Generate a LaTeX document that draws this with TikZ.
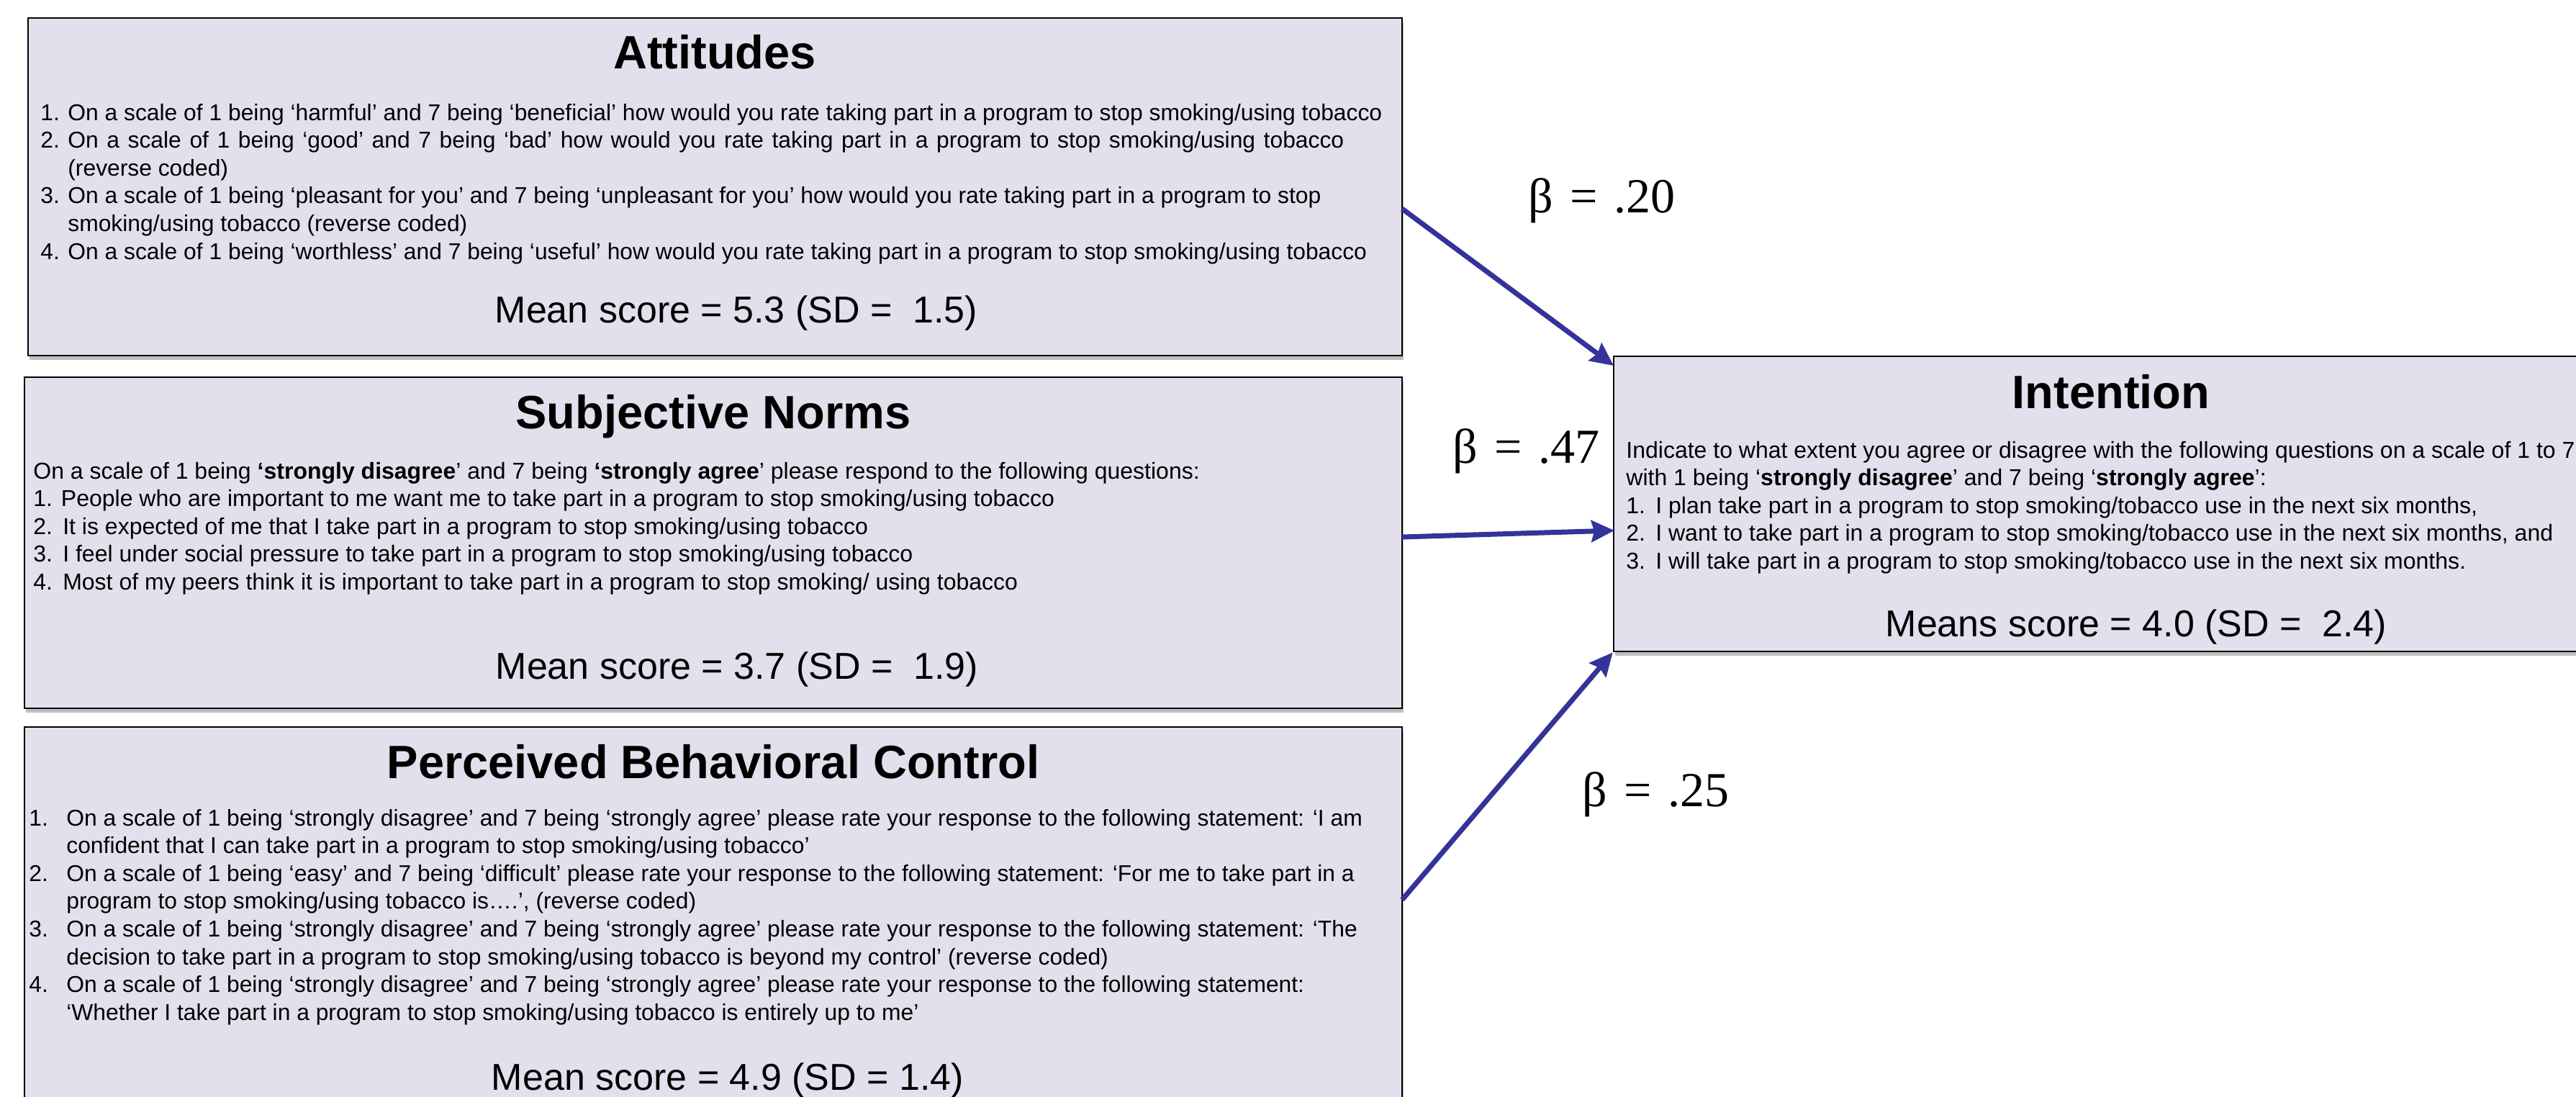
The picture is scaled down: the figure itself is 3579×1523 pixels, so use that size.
\documentclass[tikz,border=0pt]{standalone}
\usepackage{fontspec}
\setmainfont{Liberation Sans}
\newfontfamily\betafont{Liberation Serif}
\usetikzlibrary{arrows.meta,shadows}
\definecolor{panelfill}{RGB}{228,223,236}
\definecolor{arrowblue}{RGB}{51,51,153}
\newcommand{\bodyfont}{\fontsize{16pt}{19.3pt}\selectfont}
\newcommand{\bodyfontb}{\fontsize{15.9pt}{19.3pt}\selectfont}
\newcommand{\titlefont}{\fontsize{32.5pt}{39pt}\selectfont\bfseries}
\newcommand{\meanfont}{\fontsize{26pt}{31pt}\selectfont}
\newcommand{\betasize}{\betafont\fontsize{34pt}{40pt}\selectfont}
\newcommand{\itemline}[2]{\hbox{\makebox[19pt][l]{#1}#2}}
\newcommand{\contline}[1]{\hbox{\hspace*{19pt}#1}}
\newcommand{\itemlinew}[2]{\hbox{\makebox[26pt][l]{#1}#2}}
\newcommand{\contlinew}[1]{\hbox{\hspace*{26pt}#1}}
\newcommand{\plainline}[1]{\hbox{#1}}
\newcommand{\betalabel}[1]{β\hspace{12pt}=\hspace{11pt}#1}
\tikzset{
  panel/.style={draw=black, line width=1.4pt, fill=panelfill,
    drop shadow={shadow xshift=1pt, shadow yshift=-3pt, opacity=0.25, fill=black},
    inner sep=0pt},
  txt/.style={inner sep=0pt, anchor=base west},
  ctr/.style={inner sep=0pt, anchor=base},
  conn/.style={draw=arrowblue, line width=3.5pt,
    -{Stealth[length=16pt,width=15pt,inset=2pt]}}
}
\begin{document}
\begin{tikzpicture}[x=0.5pt,y=-0.5pt]
\useasboundingbox (0,0) rectangle (3579,1523);
\clip (0,0) rectangle (3579,1523);
\fill[white] (0,0) rectangle (3579,1523);

% panels
\node[panel, minimum width=954.5pt, minimum height=234.5pt] (att) at (993.5,259.5) {};
\node[panel, minimum width=957pt, minimum height=230pt] (sn) at (991,754) {};
\node[panel, minimum width=957pt, minimum height=285pt] (pbc) at (991,1295) {};
\node[panel, minimum width=691pt, minimum height=205pt] (int) at (2933,700) {};

% Attitudes
\node[ctr] (atttitle) at (993,95) {\titlefont Attitudes};
\node[txt] (attbody) at (56,167) {\bodyfontb\vtop{%
\itemline{1.}{On a scale of 1 being ‘harmful’ and 7 being ‘beneficial’ how would you rate taking part in a program to stop smoking/using tobacco}
\itemline{2.}{\spaceskip=5.8pt On a scale of 1 being ‘good’ and 7 being ‘bad’ how would you rate taking part in a program to stop smoking/using tobacco}
\contline{(reverse coded)}
\itemline{3.}{On a scale of 1 being ‘pleasant for you’ and 7 being ‘unpleasant for you’ how would you rate taking part in a program to stop}
\contline{smoking/using tobacco (reverse coded)}
\itemline{4.}{On a scale of 1 being ‘worthless’ and 7 being ‘useful’ how would you rate taking part in a program to stop smoking/using tobacco}}};
\node[ctr] (attmean) at (1023,448) {\meanfont Mean score = 5.3 (SD = \ 1.5)};

% Subjective norms
\node[ctr] (sntitle) at (991,595) {\titlefont Subjective Norms};
\node[txt] (snbody) at (46,665) {\bodyfont\vtop{%
\plainline{On a scale of 1 being \textbf{‘strongly disagree}’ and 7 being \textbf{‘strongly agree}’ please respond to the following questions:}
\plainline{1. People who are important to me want me to take part in a program to stop smoking/using tobacco}
\plainline{2.\ \,It is expected of me that I take part in a program to stop smoking/using tobacco}
\plainline{3.\ \,I feel under social pressure to take part in a program to stop smoking/using tobacco}
\plainline{4.\ \,Most of my peers think it is important to take part in a program to stop smoking/ using tobacco}}};
\node[ctr] (snmean) at (1024,943) {\meanfont Mean score = 3.7 (SD = \ 1.9)};

% Perceived behavioral control
\node[ctr] (pbctitle) at (991,1081) {\titlefont Perceived Behavioral Control};
\node[txt] (pbcbody) at (40,1147) {\bodyfontb\vtop{%
\itemlinew{1.}{On a scale of 1 being ‘strongly disagree’ and 7 being ‘strongly agree’ please rate your response to the following statement: ‘I am}
\contlinew{confident that I can take part in a program to stop smoking/using tobacco’}
\itemlinew{2.}{On a scale of 1 being ‘easy’ and 7 being ‘difficult’ please rate your response to the following statement: ‘For me to take part in a}
\contlinew{program to stop smoking/using tobacco is….’, (reverse coded)}
\itemlinew{3.}{On a scale of 1 being ‘strongly disagree’ and 7 being ‘strongly agree’ please rate your response to the following statement: ‘The}
\contlinew{decision to take part in a program to stop smoking/using tobacco is beyond my control’ (reverse coded)}
\itemlinew{4.}{On a scale of 1 being ‘strongly disagree’ and 7 being ‘strongly agree’ please rate your response to the following statement:}
\contlinew{‘Whether I take part in a program to stop smoking/using tobacco is entirely up to me’}}};
\node[ctr] (pbcmean) at (1011,1514) {\meanfont Mean score = 4.9 (SD = 1.4)};

% Intention
\node[ctr] (inttitle) at (2933,567) {\titlefont Intention};
\node[txt] (intbody) at (2259,636) {\bodyfont\vtop{%
\plainline{Indicate to what extent you agree or disagree with the following questions on a scale of 1 to 7}
\plainline{with 1 being ‘\textbf{strongly disagree}’ and 7 being ‘\textbf{strongly agree}’:}
\plainline{1.\ \,I plan take part in a program to stop smoking/tobacco use in the next six months,}
\plainline{2.\ \,I want to take part in a program to stop smoking/tobacco use in the next six months, and}
\plainline{3.\ \,I will take part in a program to stop smoking/tobacco use in the next six months.}}};
\node[ctr] (intmean) at (2968,884) {\meanfont Means score = 4.0 (SD = \ 2.4)};

% beta labels
\node[txt] (b20) at (2123,295) {\betasize\betalabel{.20}};
\node[txt] (b47) at (2018,643) {\betasize\betalabel{.47}};
\node[txt] (b25) at (2198,1120) {\betasize\betalabel{.25}};

% connectors
\coordinate (attout) at (1948,290);
\coordinate (attin) at (2242,508);
\coordinate (snout) at (1948,746);
\coordinate (inmid) at (2243,737);
\coordinate (pbcout) at (1948,1250);
\draw[conn] (attout) -- (attin);
\draw[conn] (snout) -- (inmid);
\draw[conn] (pbcout) -- (int.south west);
\end{tikzpicture}
\end{document}
